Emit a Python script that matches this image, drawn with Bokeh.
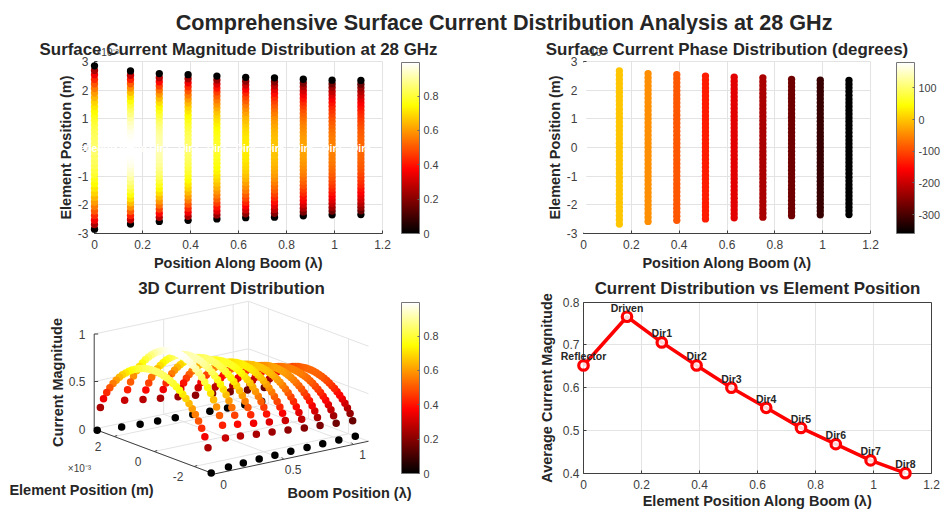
from bokeh.embed import file_html
from bokeh.resources import INLINE
from bokeh.plotting import figure
from bokeh.layouts import column, row
from bokeh.core.properties import value
from bokeh.models import (ColumnDataSource, Range1d, LinearAxis, Grid, FixedTicker, ColorBar,
                          LinearColorMapper, LabelSet, Label)

SUPTITLE = "Comprehensive Surface Current Distribution Analysis at 28 GHz"
element_names = ["Reflector", "Driven", "Dir1", "Dir2", "Dir3", "Dir4", "Dir5", "Dir6", "Dir7", "Dir8"]
boom_positions = [0, 0.15, 0.27, 0.39, 0.51, 0.63, 0.75, 0.87, 0.99, 1.11]
half_lengths = [2.85, 2.67, 2.58, 2.54, 2.49, 2.45, 2.43, 2.38, 2.35, 2.34]   # x 10^-3 m
peak_magnitude = [0.85, 1.0, 0.92, 0.85, 0.785, 0.725, 0.663, 0.613, 0.563, 0.524]
phase_degrees = [180, 0, -45, -90, -135, -180, -225, -270, -315, -360]
average_magnitude = [0.652, 0.766, 0.706, 0.652, 0.600, 0.553, 0.506, 0.468, 0.430, 0.400]
# sample points along one half element (tip -> centre) and the relative current read there
tip_fraction = [1, 0.944, 0.889, 0.833, 0.778, 0.722, 0.667, 0.611, 0.556, 0.5,
                0.444, 0.389, 0.333, 0.278, 0.222, 0.167, 0.111, 0.056, 0]
tip_current = [0, 0.295, 0.417, 0.509, 0.585, 0.650, 0.707, 0.757, 0.802, 0.841,
               0.875, 0.905, 0.931, 0.952, 0.969, 0.983, 0.992, 0.998, 1]

FONT = "Liberation Sans"
DARK = "#262626"
TICKC = "#404040"
GRIDC = "#e3e3e3"

def hot():
    out = []
    for i in range(256):
        t = i / 255
        r = min(t / 0.375, 1)
        g = min(max((t - 0.375) / 0.375, 0), 1)
        b = min(max((t - 0.75) / 0.25, 0), 1)
        out.append("#%02x%02x%02x" % (round(r * 255), round(g * 255), round(b * 255)))
    return out

HOT = hot()
mag_mapper = LinearColorMapper(palette=HOT, low=0, high=0.996)
phase_mapper = LinearColorMapper(palette=HOT, low=-360, high=180)

signs_f = [-f for f in tip_fraction] + [f for f in reversed(tip_fraction[:-1])]
signs_c = list(tip_current) + list(reversed(tip_current[:-1]))

def element_points(i):
    return ([boom_positions[i]] * len(signs_f),
            [half_lengths[i] * f for f in signs_f],
            [peak_magnitude[i] * c for c in signs_c])

def colorbar(p, mapper, ticks, labels, x, y):
    cb = ColorBar(color_mapper=mapper, ticker=FixedTicker(ticks=ticks),
                  major_label_overrides=dict(zip(ticks, labels)),
                  location=(x, y), width=18, height=171, padding=0, margin=0,
                  label_standoff=4, major_tick_in=2, major_tick_line_color="#666666", major_tick_out=0,
                  bar_line_color="#777777", bar_line_width=1,
                  major_label_text_font=FONT, major_label_text_font_size="10.8px",
                  major_label_text_color=TICKC, background_fill_alpha=0, border_line_color=None,
                  title=None)
    p.add_layout(cb)

def panel(box, frame, xlim, ylim, xticks, xlabels, yticks, ylabels, xlab, ylab,
          boxed=False, xstand=6, ystand=6, xlab_stand=3, ylab_stand=1):
    # box = figure edges and frame = axis edges, both in page pixels; the frame fills the figure
    bx0, bx1, by0, by1 = box
    fx0, fx1, fy0, fy1 = frame
    xs = (xlim[1] - xlim[0]) / (fx1 - fx0)
    ys = (ylim[1] - ylim[0]) / (fy1 - fy0)
    p = figure(width=bx1 - bx0, height=by1 - by0, min_border=0, x_axis_type=None, y_axis_type=None,
               x_range=Range1d(xlim[0] - (fx0 - bx0) * xs, xlim[1] + (bx1 - fx1) * xs),
               y_range=Range1d(ylim[0] - (by1 - fy1) * ys, ylim[1] + (fy0 - by0) * ys),
               toolbar_location=None, output_backend="svg", outline_line_color=None, frame_align=False)
    for dim, ticks, bounds, cross in ((0, xticks, xlim, ylim), (1, yticks, ylim, xlim)):
        p.add_layout(Grid(dimension=dim, ticker=FixedTicker(ticks=ticks), bounds=bounds, cross_bounds=cross,
                          grid_line_color=GRIDC, grid_line_width=1))
    ax = LinearAxis(fixed_location=ylim[0], bounds=xlim, ticker=FixedTicker(ticks=xticks),
                    major_label_overrides=dict(zip(xticks, xlabels)), axis_label=xlab,
                    axis_label_standoff=xlab_stand, major_label_standoff=xstand)
    ay = LinearAxis(fixed_location=xlim[0], bounds=ylim, ticker=FixedTicker(ticks=yticks),
                    major_label_overrides=dict(zip(yticks, ylabels)), axis_label=ylab,
                    axis_label_standoff=ylab_stand, major_label_standoff=ystand)
    for a in (ax, ay):
        a.axis_line_color = TICKC
        a.major_tick_line_color = TICKC
        a.major_tick_in = 3
        a.major_tick_out = 0
        a.minor_tick_line_color = None
        a.major_label_text_font = FONT
        a.major_label_text_font_size = "12px"
        a.major_label_text_color = TICKC
        a.axis_label_text_font = FONT
        a.axis_label_text_font_size = "14.5px"
        a.axis_label_text_font_style = "bold"
        a.axis_label_text_color = DARK
    p.add_layout(ax, "below")
    p.add_layout(ay, "left")
    if boxed:
        for pos, loc, bnd in (("right", xlim[1], ylim), ("above", ylim[1], xlim)):
            p.add_layout(LinearAxis(fixed_location=loc, bounds=bnd, ticker=FixedTicker(ticks=[]),
                                    axis_line_color=TICKC, major_label_text_font_size="0px",
                                    major_tick_line_color=None, minor_tick_line_color=None), pos)
    return p

def add_title(p, text, x, y, off):
    p.add_layout(Label(x=x, y=y, y_offset=off, text=text, text_align="center", text_baseline="middle",
                       text_font=FONT, text_font_size="16.9px", text_font_style="bold", text_color=DARK))

def add_exp(p, x, y):
    p.add_layout(Label(x=x, y=y, x_offset=1, y_offset=9, text="×10⁻³", text_align="left", text_baseline="middle",
                       text_font=FONT, text_font_size="10px", text_color=TICKC))

def add_names(p, xs, ys, off, color):
    src = ColumnDataSource(dict(x=xs, y=ys, t=element_names))
    p.add_layout(LabelSet(x="x", y="y", text="t", y_offset=off, level="overlay", source=src,
                          text_color=color, text_align="center", text_baseline="middle",
                          text_font=value(FONT), text_font_size="10.5px", text_font_style="bold"))

XT = [0, 0.2, 0.4, 0.6, 0.8, 1, 1.2]
XL = ["0", "0.2", "0.4", "0.6", "0.8", "1", "1.2"]
YT = [-3, -2, -1, 0, 1, 2, 3]
YL = ["-3", "-2", "-1", "0", "1", "2", "3"]
MT = [0, 0.2, 0.4, 0.6, 0.8]
ML = ["0", "0.2", "0.4", "0.6", "0.8"]

# ---- suptitle strip
p0 = figure(width=941, height=34, x_range=Range1d(0, 941), y_range=Range1d(34, 0), x_axis_type=None, y_axis_type=None,
            toolbar_location=None, output_backend="svg", outline_line_color=None, min_border=0, frame_align=False)
p0.text(x=[504], y=[22], text=[SUPTITLE], text_align="center", text_baseline="middle",
        text_font=value(FONT), text_font_size="21.6px", text_font_style="bold", text_color=DARK)

# ---- magnitude distribution
p1 = panel((0, 470, 34, 272), (94, 382, 61, 233), (0, 1.2), (-3, 3), XT, XL, YT, YL,
           "Position Along Boom (λ)", "Element Position (m)")
for i in range(10):
    bx, ey, mg = element_points(i)
    src = ColumnDataSource(dict(x=bx, y=ey, m=mg))
    p1.scatter("x", "y", source=src, size=7.3, line_color=None, level="overlay",
               fill_color={"field": "m", "transform": mag_mapper})
add_names(p1, boom_positions, [0] * 10, 0, "white")
add_title(p1, "Surface Current Magnitude Distribution at 28 GHz", 0.6, 3, 12)
add_exp(p1, 0, 3)
colorbar(p1, mag_mapper, MT, ML, 401, 39)

# ---- phase distribution
p2 = panel((470, 941, 34, 272), (583, 870, 61, 233), (0, 1.2), (-3, 3), XT, XL, YT, YL,
           "Position Along Boom (λ)", "Element Position (m)")
for i in range(10):
    bx, ey, mg = element_points(i)
    src = ColumnDataSource(dict(x=bx, y=ey, a=[phase_degrees[i]] * len(bx)))
    p2.scatter("x", "y", source=src, size=7.3, line_color=None, level="overlay",
               fill_color={"field": "a", "transform": phase_mapper})
add_title(p2, "Surface Current Phase Distribution (degrees)", 0.6, 3, 12)
add_exp(p2, 0, 3)
colorbar(p2, phase_mapper, [-300, -200, -100, 0, 100], ["-300", "-200", "-100", "0", "100"], 426, 39)

# ---- 3D view (axis box and points go through one projection)
BMAX = 1.11

def pr(b, e, z):
    return (213.7 + 139.0 * b - 20.0 * (e + 3), 473.5 - 29.5 * b - 7.5 * (e + 3) - 95.0 * z)

p3 = figure(width=470, height=239, x_range=Range1d(0, 470), y_range=Range1d(511, 272), x_axis_type=None,
            y_axis_type=None, toolbar_location=None, output_backend="svg", outline_line_color=None, min_border=0,
            frame_align=False)

def seg(a, b, color=GRIDC, w=1):
    (x0, y0), (x1, y1) = pr(*a), pr(*b)
    p3.line([x0, x1], [y0, y1], line_color=color, line_width=w)

for bt in [0, 0.5, 1]:
    seg((bt, -3, 0), (bt, 3, 0))
    if bt > 0:
        seg((bt, 3, 0), (bt, 3, 1))
for et in [-2, 0, 2]:
    seg((0, et, 0), (BMAX, et, 0))
    seg((BMAX, et, 0), (BMAX, et, 1))
for zt in [0.5, 1]:
    seg((0, 3, zt), (BMAX, 3, zt))
    seg((BMAX, 3, zt), (BMAX, -3, zt))
seg((BMAX, 3, 0), (BMAX, 3, 1))
seg((BMAX, 3, 0), (BMAX, -3, 0))
seg((0, 3, 0), (BMAX, 3, 0))
seg((0, 3, 0), (0, 3, 1), TICKC)
seg((0, 3, 0), (0, -3, 0), TICKC)
seg((0, -3, 0), (BMAX, -3, 0), TICKC)
for zt in [0, 0.5, 1]:
    x0, y0 = pr(0, 3, zt)
    p3.line([x0, x0 + 4], [y0, y0], line_color=TICKC)
for et in [-2, 0, 2]:
    x0, y0 = pr(0, et, 0)
    p3.line([x0, x0 + 3], [y0, y0 - 1], line_color=TICKC)
for bt in [0, 0.5, 1]:
    x0, y0 = pr(bt, -3, 0)
    p3.line([x0, x0 - 2], [y0, y0 - 2], line_color=TICKC)

for i in reversed(range(10)):
    bx, ey, mg = element_points(i)
    xy = [pr(b, e, m) for b, e, m in zip(bx, ey, mg)]
    src = ColumnDataSource(dict(x=[q[0] for q in xy], y=[q[1] for q in xy], m=mg))
    p3.scatter("x", "y", source=src, size=7.5, line_color=None,
               fill_color={"field": "m", "transform": mag_mapper})

def txt(x, y, s, size="12px", bold=False, color=TICKC, align="center", angle=0):
    p3.text(x=[x], y=[y], text=[s], text_align=align, text_baseline="middle", angle=angle,
            text_font=value(FONT), text_font_size=size, text_font_style="bold" if bold else "normal",
            text_color=color)

for zt, s, dx in [(0, "0", -12), (0.5, "0.5", -17), (1, "1", -12)]:
    x0, y0 = pr(0, 3, zt)
    txt(x0 + dx, y0, s)
for et, s in [(2, "2"), (0, "0"), (-2, "-2")]:
    x0, y0 = pr(0, et, 0)
    txt(x0 - 16, y0 + 10, s)
for bt, s in [(0, "0"), (0.5, "0.5"), (1, "1")]:
    x0, y0 = pr(bt, -3, 0)
    txt(x0 + 9.5, y0 + 10, s)
txt(231, 288, "3D Current Distribution", "16.9px", True, DARK)
txt(79, 467.5, "×10⁻³", "10px")
txt(81, 489, "Element Position (m)", "14.5px", True, DARK)
txt(349, 492, "Boom Position (λ)", "14.5px", True, DARK)
txt(57, 382, "Current Magnitude", "14.5px", True, DARK, angle=1.5708)
colorbar(p3, mag_mapper, MT, ML, 401, 38)

# ---- average current
p4 = panel((470, 941, 272, 511), (583, 931, 301.7, 472.7), (0, 1.2), (0.4, 0.8), XT, XL, [0.4, 0.5, 0.6, 0.7, 0.8],
           ["0.4", "0.5", "0.6", "0.7", "0.8"], "Element Position Along Boom (λ)", "Average Current Magnitude",
           boxed=True, ystand=4, xstand=7, xlab_stand=0, ylab_stand=5)
p4.line(boom_positions, average_magnitude, line_color="#ff0000", line_width=3.5, level="overlay")
p4.scatter(boom_positions, average_magnitude, size=9.5, fill_color="white", fill_alpha=0.85, line_color="#ff0000",
           line_width=3.2, level="overlay")
add_names(p4, boom_positions, average_magnitude, 9, DARK)
add_title(p4, "Current Distribution vs Element Position", 0.6, 0.8, 14)

page = column(p0, row(p1, p2), row(p3, p4))
open("out.html", "w").write(file_html(page, INLINE))
